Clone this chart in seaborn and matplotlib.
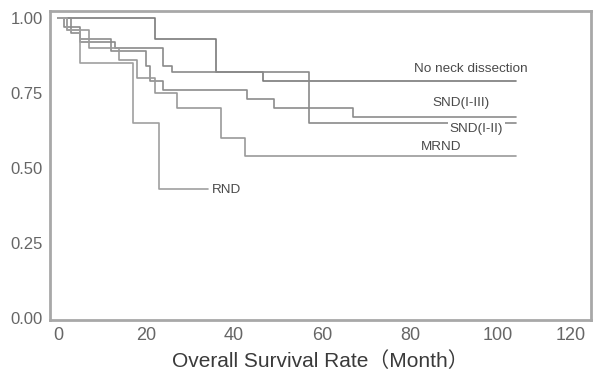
import matplotlib
matplotlib.use('Agg')
import matplotlib.pyplot as plt
import seaborn as sns
import pandas as pd

# Kaplan-Meier step points (month, survival)
no_neck_t = [0, 22, 36, 46.5, 104]
no_neck_s = [1.00, 0.93, 0.82, 0.79, 0.79]

snd12_t = [0, 1.5, 5, 13, 24, 26, 57, 104]
snd12_s = [1.00, 0.97, 0.92, 0.90, 0.84, 0.82, 0.65, 0.65]

snd13_t = [0, 3, 5, 12, 20, 21, 24, 43, 49, 67, 104]
snd13_s = [1.00, 0.95, 0.93, 0.89, 0.84, 0.79, 0.76, 0.73, 0.70, 0.67, 0.67]

mrnd_t = [0, 2, 7, 14, 18, 22, 27, 37, 42.5, 104]
mrnd_s = [1.00, 0.96, 0.90, 0.86, 0.80, 0.75, 0.70, 0.60, 0.54, 0.54]

rnd_t = [0, 2, 5, 17, 23, 34]
rnd_s = [1.00, 0.96, 0.85, 0.65, 0.43, 0.43]

groups = ['No neck dissection', 'SND(I-III)', 'SND(I-II)', 'MRND', 'RND']
times = [no_neck_t, snd13_t, snd12_t, mrnd_t, rnd_t]
survs = [no_neck_s, snd13_s, snd12_s, mrnd_s, rnd_s]
label_xy = [(81, 0.83), (85, 0.717), (89, 0.63), (82.5, 0.57), (35, 0.427)]
line_colors = ['#7a7a7a', '#8c8c8c', '#8a8a8a', '#9a9a9a', '#a0a0a0']

x_ticks = [0, 20, 40, 60, 80, 100, 120]
y_ticks = [0.00, 0.25, 0.50, 0.75, 1.00]

rows = []
for g, t, s in zip(groups, times, survs):
    for ti, si in zip(t, s):
        rows.append({'group': g, 'month': ti, 'survival': si})
df = pd.DataFrame(rows)

sns.set_style('white')
plt.rcParams['font.family'] = ['Liberation Sans', 'Noto Sans CJK KR']

fig = plt.figure(figsize=(5.94, 3.78), dpi=100)
ax = fig.add_axes([0.084, 0.153, 0.911, 0.818])

for g, c in zip(groups, line_colors):
    sub = df[df['group'] == g]
    sns.lineplot(data=sub, x='month', y='survival', ax=ax, color=c,
                 drawstyle='steps-post', estimator=None, sort=False,
                 linewidth=1.2, legend=False)

for g, (lx, ly) in zip(groups, label_xy):
    ax.text(lx, ly, g, fontsize=9.7, color='#4a4a4a', va='center', ha='left',
            bbox=dict(facecolor='white', edgecolor='none', pad=1.0))

ax.set_xlim(-1.8, 121.1)
ax.set_ylim(-0.007, 1.023)
ax.set_xticks(x_ticks)
ax.set_xticklabels([str(v) for v in x_ticks], fontsize=13, color='#666666')
ax.get_xticklabels()[-1].set_ha('right')
ax.set_yticks(y_ticks)
ax.set_yticklabels([f'{v:.2f}' for v in y_ticks], fontsize=12, color='#666666')
ax.tick_params(axis='both', length=2, color='#aaaaaa', pad=3)
ax.set_xlabel('Overall Survival Rate\uff08Month\uff09', fontsize=15, color='#3a3a3a', labelpad=5)
ax.set_ylabel('')
for sp in ax.spines.values():
    sp.set_color('#a8a8a8')
    sp.set_linewidth(2)

fig.savefig('out.png', dpi=100)
